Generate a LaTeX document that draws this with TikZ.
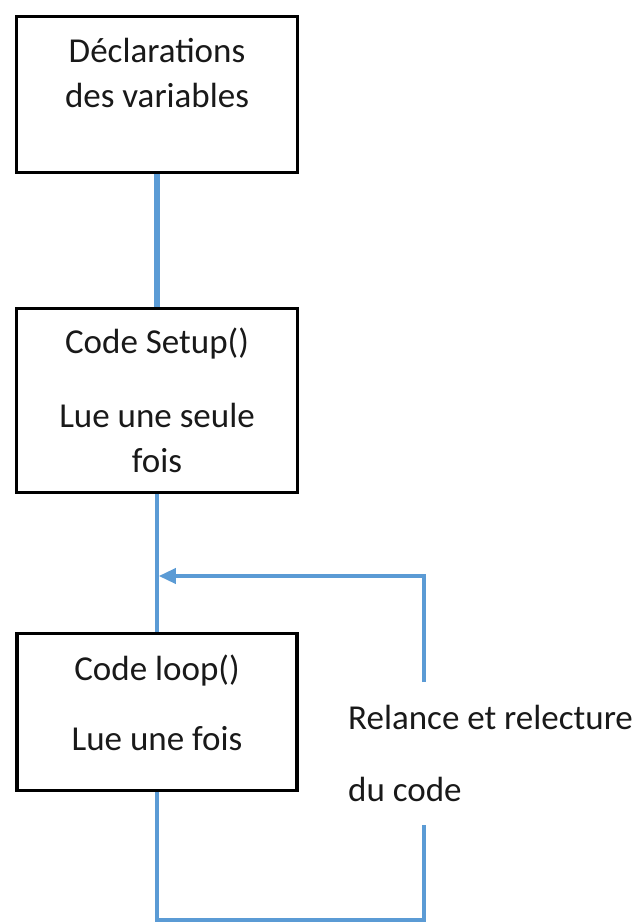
\documentclass[tikz,border=0pt]{standalone}
\usepackage{fontspec}
\setmainfont{Carlito}
\usetikzlibrary{arrows.meta}
\definecolor{lineblue}{RGB}{91,155,213}
\begin{document}
\begin{tikzpicture}[x=1pt,y=-1pt,
  box/.style={draw=black,line width=3.5pt,rectangle,inner sep=0pt,fill=white},
  lbl/.style={anchor=base,inner sep=0pt,font=\fontsize{35}{42}\selectfont,text=black!90},
  conn/.style={draw=lineblue,line width=3.6pt},
  thickconn/.style={draw=lineblue,line width=5.5pt},
]
\useasboundingbox (0,0) rectangle (638,924);

% boxes
\node[box,minimum width=281pt,minimum height=156pt] (b1) at (157,94.5) {};
\node[box,minimum width=281pt,minimum height=184pt] (b2) at (157,400.5) {};
\node[box,minimum width=280pt,minimum height=157pt] (b3) at (157,712) {};

% texts
\node[lbl] (t1a) at (157,62) {Déclarations};
\node[lbl] (t1b) at (157,107) {des variables};
\node[lbl] (t2a) at (157,353) {Code Setup()};
\node[lbl] (t2b) at (157,427) {Lue une seule};
\node[lbl] (t2c) at (157,472) {fois};
\node[lbl] (t3a) at (157,680) {Code loop()};
\node[lbl] (t3b) at (157,750) {Lue une fois};
\node[lbl,anchor=base west] (r1) at (348,729) {Relance et relecture};
\node[lbl,anchor=base west] (r2) at (348,801) {du code};

% connector coordinates
\coordinate (join) at (157,576);
\coordinate (bl) at (157,920);
\coordinate (br) at (424,920);
\coordinate (rlow) at (424,825);
\coordinate (rhigh) at (424,682);
\coordinate (tr) at (424,576);

% connectors
\draw[thickconn] (b1.south) -- (b2.north);
\draw[conn] (b2.south) -- (b3.north);
\draw[conn] (b3.south) -- (bl) -- (br) -- (rlow);
\draw[conn,-{Triangle[length=17pt,width=15pt]}] (rhigh) -- (tr) -- ([xshift=1.8pt]join);
\end{tikzpicture}
\end{document}
